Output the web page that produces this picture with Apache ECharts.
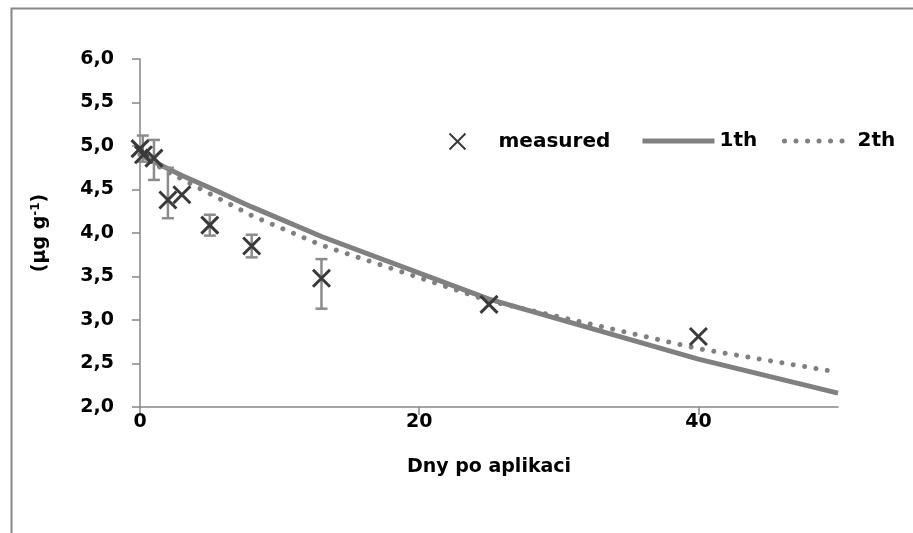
<!DOCTYPE html>
<html>
<head>
<meta charset="utf-8">
<script src="https://cdn.jsdelivr.net/npm/echarts@6/dist/echarts.min.js"></script>
<style>
  html, body { margin: 0; padding: 0; background: #fff; }
  #chart { width: 913px; height: 533px; }
</style>
</head>
<body>
<div id="chart"></div>
<script>
// measured points (days after application, concentration)
var measuredX = [0, 0.25, 1, 2, 3, 5, 8, 13, 25, 40];
var measuredY = [4.97, 4.90, 4.86, 4.38, 4.44, 4.09, 3.85, 3.48, 3.18, 2.81];

// error bars: x, low, high
var errX = [0.2, 1, 2, 5, 8, 13];
var errLow = [4.82, 4.61, 4.17, 3.97, 3.72, 3.13];
var errHigh = [5.12, 5.07, 4.75, 4.21, 3.98, 3.70];

// fitted curves
var fitX = [0, 1, 2, 3, 5, 8, 13, 25, 40, 50];
var fit1 = [4.90, 4.82, 4.74, 4.66, 4.52, 4.30, 3.96, 3.24, 2.55, 2.16];
var fit2 = [4.90, 4.80, 4.70, 4.62, 4.45, 4.20, 3.86, 3.22, 2.67, 2.40];

function zip(a, b) {
  var out = [];
  for (var i = 0; i < a.length; i++) out.push([a[i], b[i]]);
  return out;
}
var errData = [];
for (var i = 0; i < errX.length; i++) errData.push([errX[i], errLow[i], errHigh[i]]);

var font = 'DejaVu Sans';
var crossPath = 'path://M0,0L10,10M10,0L0,10';
var gray = '#808080';
var solidStyle = { color: gray, width: 5 };
var dotStyle = { color: gray, width: 5, type: [0.01, 11.5], cap: 'round' };
var legendText = { fontFamily: font, fontWeight: 'bold', fontSize: 20, color: '#000' };

var chart = echarts.init(document.getElementById('chart'));

var option = {
  backgroundColor: '#fff',
  animation: false,
  textStyle: { fontFamily: font, fontWeight: 'bold', color: '#000' },
  graphic: [{
    type: 'rect',
    left: 9, top: 6,
    shape: { width: 1000, height: 1000 },
    style: { fill: 'none', stroke: '#888', lineWidth: 2 },
    z: -10
  }],
  legend: [{
    data: ['measured'],
    left: 447, top: 131, padding: 0,
    itemWidth: 16, itemHeight: 16,
    textStyle: Object.assign({}, legendText, { padding: [0, 0, 0, 28] })
  }, {
    data: ['1th'],
    left: 640, top: 131, padding: 0,
    itemWidth: 72, itemHeight: 16,
    itemStyle: { opacity: 0 },
    lineStyle: solidStyle,
    textStyle: legendText
  }, {
    data: ['2th'],
    left: 782, top: 131, padding: 0,
    itemWidth: 68, itemHeight: 16,
    itemStyle: { opacity: 0 },
    lineStyle: dotStyle,
    textStyle: legendText
  }],
  grid: { left: 140, right: 75, top: 59, bottom: 126 },
  xAxis: {
    type: 'value',
    min: 0, max: 50, interval: 20,
    name: 'Dny po aplikaci',
    nameLocation: 'middle',
    nameGap: 51,
    nameTextStyle: { fontFamily: font, fontWeight: 'bold', fontSize: 19, color: '#000' },
    axisLine: { lineStyle: { color: '#868686', width: 1.5 } },
    axisTick: { length: 8, lineStyle: { color: '#868686', width: 1.5 } },
    axisLabel: { showMaxLabel: false, margin: 6, fontSize: 19, fontWeight: 'bold', fontFamily: font, color: '#000' },
    splitLine: { show: false }
  },
  yAxis: {
    type: 'value',
    min: 2, max: 6, interval: 0.5,
    name: '{a|(µg g}{s|-1}{a|)}',
    nameLocation: 'middle',
    nameRotate: 90,
    nameGap: 90,
    nameTextStyle: {
      rich: {
        a: { fontFamily: font, fontWeight: 'bold', fontSize: 19, color: '#000' },
        s: { fontFamily: font, fontWeight: 'bold', fontSize: 12, color: '#000', verticalAlign: 'top', padding: [0, 0, 8, 0] }
      }
    },
    axisLine: { show: true, lineStyle: { color: '#868686', width: 1.5 } },
    axisTick: { show: true, length: 8, lineStyle: { color: '#868686', width: 1.5 } },
    axisLabel: {
      margin: 26, fontSize: 19, fontWeight: 'bold', fontFamily: font, color: '#000',
      formatter: function (v) { return v.toFixed(1).replace('.', ','); }
    },
    splitLine: { show: false }
  },
  series: [{
    name: '1th',
    type: 'line',
    data: zip(fitX, fit1),
    symbol: 'none',
    lineStyle: solidStyle,
    itemStyle: { color: gray },
    z: 2
  }, {
    name: '2th',
    type: 'line',
    data: zip(fitX, fit2),
    symbol: 'none',
    lineStyle: dotStyle,
    itemStyle: { color: gray },
    z: 3
  }, {
    name: 'err',
    type: 'custom',
    data: errData,
    encode: { x: 0, y: [1, 2] },
    renderItem: function (params, api) {
      var x = api.value(0);
      var lo = api.coord([x, api.value(1)]);
      var hi = api.coord([x, api.value(2)]);
      var w = 6;
      var st = { stroke: '#8c8c8c', lineWidth: 2.5 };
      return {
        type: 'group',
        children: [
          { type: 'line', shape: { x1: lo[0], y1: lo[1], x2: hi[0], y2: hi[1] }, style: st },
          { type: 'line', shape: { x1: hi[0] - w, y1: hi[1], x2: hi[0] + w, y2: hi[1] }, style: st },
          { type: 'line', shape: { x1: lo[0] - w, y1: lo[1], x2: lo[0] + w, y2: lo[1] }, style: st }
        ]
      };
    },
    z: 4
  }, {
    name: 'measured',
    type: 'scatter',
    data: zip(measuredX, measuredY),
    symbol: crossPath,
    symbolSize: 17,
    itemStyle: { color: 'none', borderColor: '#3a3a3a', borderWidth: 3, opacity: 1 },
    z: 5
  }]
};

chart.setOption(option);
</script>
</body>
</html>
